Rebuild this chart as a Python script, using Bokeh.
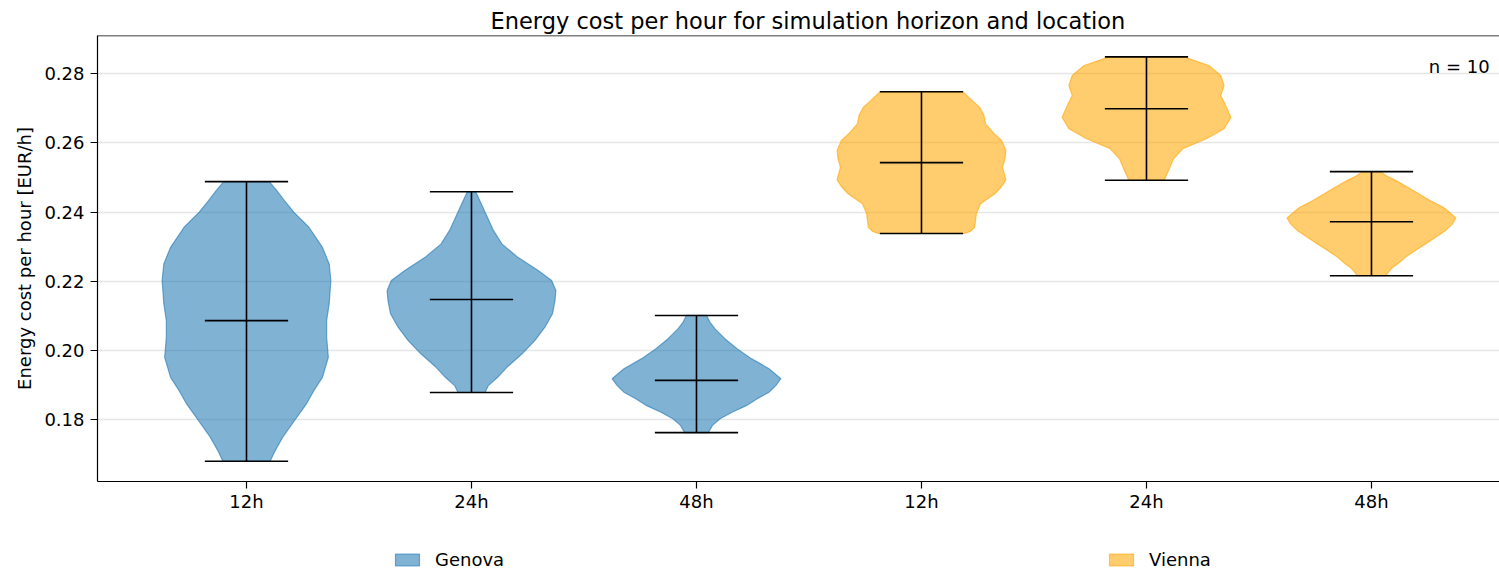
from bokeh.plotting import figure
from bokeh.layouts import column
from bokeh.models import Range1d, FixedTicker, Legend, LegendItem, Label, Span, NumeralTickFormatter
from bokeh.embed import file_html
from bokeh.resources import INLINE

# ---- data ----
locations = ["Genova", "Genova", "Genova", "Vienna", "Vienna", "Vienna"]
horizons = ["12h", "24h", "48h", "12h", "24h", "48h"]
n_runs = 10

mins = [0.1679, 0.1878, 0.1762, 0.2338, 0.2492, 0.2216]
maxs = [0.2488, 0.2459, 0.2101, 0.2748, 0.2849, 0.2517]
medians = [0.2086, 0.2147, 0.1913, 0.2543, 0.2699, 0.2372]

# violin density profiles (value, relative density)
g12_y = [0.2488, 0.2462, 0.2433, 0.2400, 0.2356, 0.2298, 0.2250, 0.2202, 0.2135, 0.2086,
         0.2038, 0.1980, 0.1922, 0.1884, 0.1845, 0.1797, 0.1749, 0.1710, 0.1679]
g12_d = [0.27, 0.36, 0.45, 0.56, 0.74, 0.90, 0.98, 1.00, 0.98, 0.95,
         0.95, 0.97, 0.90, 0.80, 0.71, 0.57, 0.43, 0.34, 0.28]
g24_y = [0.2459, 0.2400, 0.2347, 0.2308, 0.2269, 0.2231, 0.2202, 0.2173, 0.2144, 0.2106,
         0.2067, 0.2028, 0.1990, 0.1951, 0.1922, 0.1898, 0.1878]
g24_d = [0.05, 0.16, 0.26, 0.36, 0.55, 0.79, 0.95, 1.00, 0.99, 0.96,
         0.87, 0.75, 0.60, 0.42, 0.31, 0.20, 0.16]
g48_y = [0.2101, 0.2081, 0.2062, 0.2033, 0.2005, 0.1976, 0.1947, 0.1918, 0.1898, 0.1879,
         0.1860, 0.1840, 0.1821, 0.1802, 0.1783, 0.1762]
g48_d = [0.12, 0.16, 0.22, 0.34, 0.48, 0.65, 0.86, 1.00, 0.94, 0.86,
         0.72, 0.59, 0.42, 0.28, 0.19, 0.14]
v12_y = [0.2748, 0.2723, 0.2703, 0.2680, 0.2655, 0.2627, 0.2607, 0.2578, 0.2555, 0.2530,
         0.2512, 0.2493, 0.2474, 0.2453, 0.2424, 0.2395, 0.2356, 0.2344, 0.2338]
v12_d = [0.49, 0.60, 0.69, 0.74, 0.76, 0.86, 0.95, 1.00, 0.99, 0.96,
         0.98, 1.00, 0.95, 0.87, 0.70, 0.65, 0.63, 0.58, 0.51]
v24_y = [0.2849, 0.2824, 0.2795, 0.2766, 0.2737, 0.2713, 0.2674, 0.2641, 0.2612, 0.2583,
         0.2554, 0.2525, 0.2492]
v24_d = [0.44, 0.74, 0.88, 0.92, 0.88, 0.93, 1.00, 0.92, 0.71, 0.43,
         0.32, 0.27, 0.21]
v48_y = [0.2517, 0.2506, 0.2491, 0.2472, 0.2453, 0.2433, 0.2414, 0.2400, 0.2383, 0.2366,
         0.2347, 0.2327, 0.2308, 0.2289, 0.2269, 0.2250, 0.2240, 0.2226, 0.2216]
v48_d = [0.11, 0.17, 0.29, 0.43, 0.56, 0.70, 0.85, 0.92, 1.00, 0.96,
         0.88, 0.76, 0.64, 0.52, 0.40, 0.31, 0.25, 0.20, 0.17]

profiles_y = [g12_y, g24_y, g48_y, v12_y, v24_y, v48_y]
profiles_d = [g12_d, g24_d, g48_d, v12_d, v24_d, v48_d]

y_ticks = [0.18, 0.20, 0.22, 0.24, 0.26, 0.28]
legend_labels = ["Genova", "Vienna"]
colors = {"Genova": "#1f77b4", "Vienna": "#ffa500"}

# ---- layout / style ----
FONT = "DejaVu Sans"
positions = list(range(1, len(horizons) + 1))
half_width = 0.375
cap_half = 0.185
FILL_ALPHA = 0.57
LINE_ALPHA = 0.6

p = figure(width=1499, height=530,
           x_range=Range1d(0.3378, 6.569), y_range=Range1d(0.16206, 0.29108),
           output_backend="svg", toolbar_location=None,
           min_border_left=97, min_border_right=0, min_border_top=35, min_border_bottom=49)

p.title.text = "Energy cost per hour for simulation horizon and location"
p.title.text_font = FONT
p.title.text_font_size = "22.5px"
p.title.text_font_style = "normal"
p.title.text_color = "black"
p.title.align = "left"
p.title.offset = 393
p.title.standoff = 3

p.outline_line_color = None
p.background_fill_color = "white"
p.border_fill_color = "white"
p.xgrid.grid_line_color = None
p.ygrid.grid_line_color = "#e6e6e6"
p.ygrid.grid_line_width = 1.5

p.yaxis.ticker = FixedTicker(ticks=y_ticks)
p.yaxis.formatter = NumeralTickFormatter(format="0.00")
p.xaxis.ticker = FixedTicker(ticks=positions)
p.xaxis.major_label_overrides = {pos: h for pos, h in zip(positions, horizons)}
p.yaxis.axis_label = "Energy cost per hour [EUR/h]"

for ax in (p.xaxis[0], p.yaxis[0]):
    ax.axis_line_color = "black"
    ax.axis_line_width = 1.2
    ax.major_tick_line_color = "black"
    ax.major_tick_line_width = 1.2
    ax.major_tick_out = 7
    ax.major_tick_in = 0
    ax.minor_tick_line_color = None
    ax.major_label_text_font = FONT
    ax.major_label_text_font_size = "18px"
    ax.major_label_text_color = "black"
    ax.axis_label_text_font = FONT
    ax.axis_label_text_font_size = "18px"
    ax.axis_label_text_font_style = "normal"
    ax.axis_label_text_color = "black"
p.xaxis.major_label_standoff = 2
p.yaxis.major_label_standoff = 6
p.yaxis.axis_label_standoff = 6

p.add_layout(Span(location=p.y_range.end, dimension="width", line_color="black", line_width=1.5))

for loc in legend_labels:
    xs, ys = [], []
    for i, pos in enumerate(positions):
        if locations[i] != loc:
            continue
        yy = profiles_y[i]
        dd = profiles_d[i]
        right = [pos + d * half_width for d in dd]
        left = [pos - d * half_width for d in dd][::-1]
        xs.append(right + left)
        ys.append(list(yy) + list(yy)[::-1])
    p.patches(xs, ys, fill_color=colors[loc], fill_alpha=FILL_ALPHA,
              line_color=colors[loc], line_alpha=LINE_ALPHA, line_width=1.2)

# whiskers, caps, medians
p.segment(x0=positions, y0=mins, x1=positions, y1=maxs, line_color="black", line_width=1.6)
p.segment(x0=[x - cap_half for x in positions], y0=mins, x1=[x + cap_half for x in positions], y1=mins,
          line_color="black", line_width=1.6)
p.segment(x0=[x - cap_half for x in positions], y0=maxs, x1=[x + cap_half for x in positions], y1=maxs,
          line_color="black", line_width=1.6)
p.segment(x0=[x - cap_half for x in positions], y0=medians, x1=[x + cap_half for x in positions], y1=medians,
          line_color="black", line_width=1.6)

p.add_layout(Label(x=p.x_range.end - 0.044, y=0.282, text=f"n = {n_runs}", text_align="right",
                   text_baseline="middle", text_font=FONT, text_font_size="18px", text_color="black"))

# ---- legend strip below the axes (frame aligned with the main axes) ----
pl = figure(width=1499, height=42, x_range=Range1d(0, 1), y_range=Range1d(0, 1),
            output_backend="svg", toolbar_location=None,
            min_border_left=97, min_border_right=0, min_border_top=0, min_border_bottom=0)
pl.axis.visible = False
pl.grid.grid_line_color = None
pl.outline_line_color = None
pl.border_fill_color = "white"
items = []
for loc in legend_labels:
    # degenerate (invisible) patch that only carries the legend swatch style
    r = pl.patch(x=[0, 0, 0], y=[0, 0, 0], fill_color=colors[loc], fill_alpha=FILL_ALPHA,
                 line_color=colors[loc], line_alpha=LINE_ALPHA, line_width=1.2)
    items.append(LegendItem(label=loc, renderers=[r]))
legend = Legend(items=items, orientation="horizontal", location=(295, 2),
                label_width=72, label_height=20, spacing=599,
                glyph_width=30, glyph_height=15, label_standoff=13,
                border_line_color=None, background_fill_alpha=0, padding=0, margin=0,
                label_text_font=FONT, label_text_font_size="18px", label_text_color="black")
pl.add_layout(legend)

layout = column(p, pl, spacing=0)
open("out.html", "w").write(file_html(layout, INLINE))
